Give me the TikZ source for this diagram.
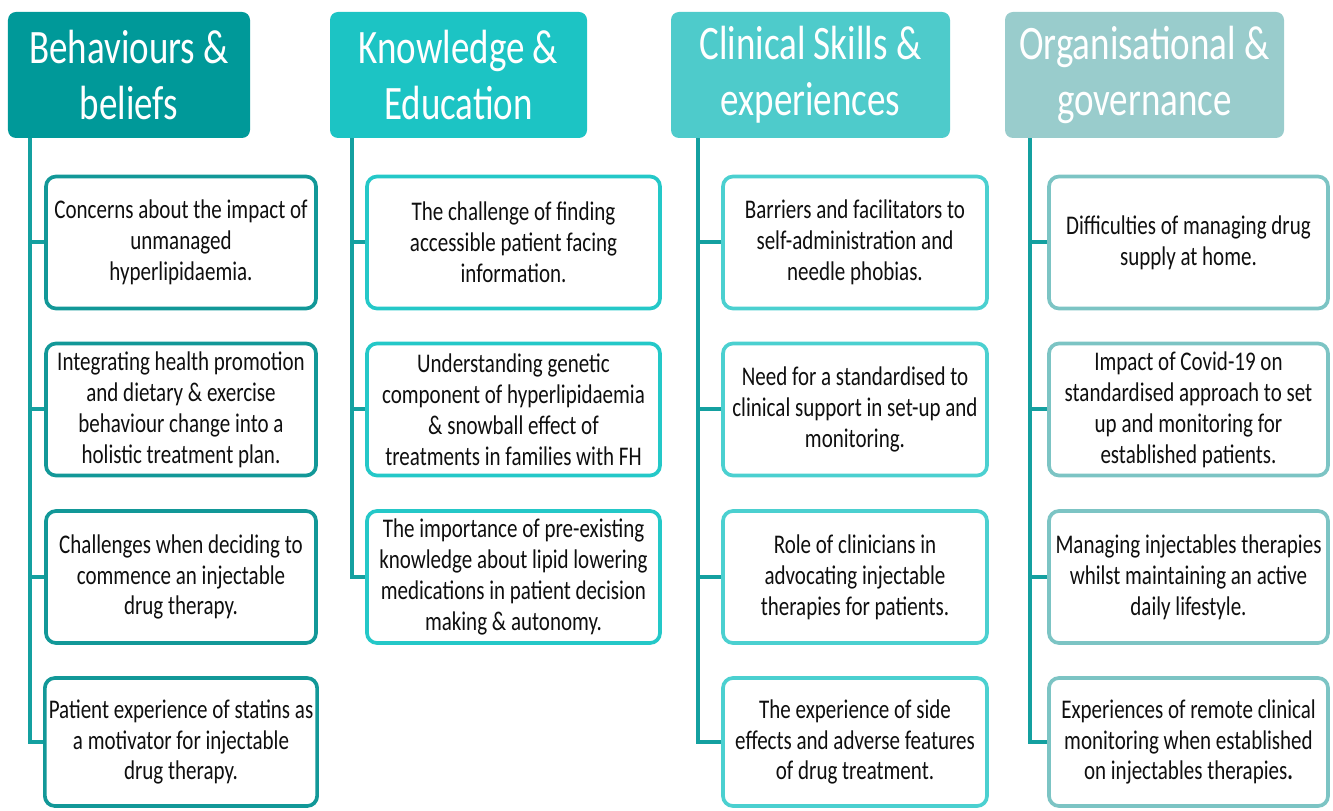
\documentclass[tikz,border=0pt]{standalone}
\usepackage{fontspec}
\setmainfont{Carlito}[FakeStretch=0.78]
\newfontfamily\headfont{Carlito}[FakeStretch=0.77]
\usepackage{tikz}

\definecolor{headA}{RGB}{0,153,153}
\definecolor{headB}{RGB}{28,196,196}
\definecolor{headC}{RGB}{78,203,203}
\definecolor{headD}{RGB}{153,204,204}
\definecolor{edgeA}{RGB}{18,152,152}
\definecolor{edgeB}{RGB}{36,200,200}
\definecolor{edgeC}{RGB}{75,208,208}
\definecolor{edgeD}{RGB}{124,196,196}
\definecolor{stemcol}{RGB}{20,160,160}
\definecolor{ink}{RGB}{15,15,15}

\tikzset{
  head/.style={rounded corners=2.4mm, minimum height=37.8mm, text=white, align=center,
    font=\headfont\fontsize{41}{47.6}\selectfont},
  card/.style={draw, line width=1.1mm, rounded corners=3mm, fill=white, text=ink,
    minimum height=39.6mm, align=center, font=\fontsize{23}{26.4}\selectfont},
  stem/.style={line width=1.2mm, stemcol}
}

\begin{document}
\begin{tikzpicture}[x=0.3mm,y=-0.3mm]
        \useasboundingbox (0,0) rectangle (1333,811);

        % Draw the four headers
        \node[head, fill=headA, minimum width=72.6mm] (h1) at (129,75) {Behaviours \&\\beliefs};
        \node[head, fill=headB, minimum width=77.1mm] (h2) at (458.5,75) {Knowledge \&\\Education};
        \node[head, fill=headC, minimum width=83.7mm] (h3) at (810.5,75) {Clinical Skills \&\\experiences};
        \node[head, fill=headD, minimum width=83.7mm] (h4) at (1144.5,75) {Organisational \&\\governance};

        % Draw the boxes of the first column
        \node[card, draw=edgeA, minimum width=81mm] (b11) at (181,242.5) {Concerns about the impact of\\unmanaged\\hyperlipidaemia.};
        \node[card, draw=edgeA, minimum width=81mm] (b12) at (181,409.5) {Integrating health promotion\\and dietary \& exercise\\behaviour change into a\\holistic treatment plan.};
        \node[card, draw=edgeA, minimum width=81mm] (b13) at (181,577) {Challenges when deciding to\\commence an injectable\\drug therapy.};
        \node[card, draw=edgeA, minimum width=81mm, minimum height=38.4mm] (b14) at (181,742) {Patient experience of statins as\\a motivator for injectable\\drug therapy.};

        % Draw the boxes of the second column
        \node[card, draw=edgeB, minimum width=87.9mm] (b21) at (513.5,242.5) {The challenge of finding\\accessible patient facing\\information.};
        \node[card, draw=edgeB, minimum width=87.9mm] (b22) at (513.5,409.5) {Understanding genetic\\component of hyperlipidaemia\\\& snowball effect of\\treatments in families with FH};
        \node[card, draw=edgeB, minimum width=87.9mm] (b23) at (513.5,577) {The importance of pre-existing\\knowledge about lipid lowering\\medications in patient decision\\making \& autonomy.};

        % Draw the boxes of the third column
        \node[card, draw=edgeC, minimum width=79.2mm] (b31) at (855,242.5) {Barriers and facilitators to\\self-administration and\\needle phobias.};
        \node[card, draw=edgeC, minimum width=79.2mm] (b32) at (855,409.5) {Need for a standardised to\\clinical support in set-up and\\monitoring.};
        \node[card, draw=edgeC, minimum width=79.2mm] (b33) at (855,577) {Role of clinicians in\\advocating injectable\\therapies for patients.};
        \node[card, draw=edgeC, minimum width=79.2mm, minimum height=38.4mm] (b34) at (855,742) {The experience of side\\effects and adverse features\\of drug treatment.};

        % Draw the boxes of the fourth column
        \node[card, draw=edgeD, minimum width=83.7mm] (b41) at (1188.5,242.5) {Difficulties of managing drug\\supply at home.};
        \node[card, draw=edgeD, minimum width=83.7mm] (b42) at (1188.5,409.5) {Impact of Covid-19 on\\standardised approach to set\\up and monitoring for\\established patients.};
        \node[card, draw=edgeD, minimum width=83.7mm] (b43) at (1188.5,577) {Managing injectables therapies\\whilst maintaining an active\\daily lifestyle.};
        \node[card, draw=edgeD, minimum width=83.7mm, minimum height=38.4mm] (b44) at (1188.5,742) {Experiences of remote clinical\\monitoring when established\\on injectables therapies\textbf{.}};

        % Draw the stems from each header to its boxes
        \draw[stem] ([xshift=6.6mm]h1.south west) |- (b11.west);
        \draw[stem] ([xshift=6.6mm]h1.south west) |- (b12.west);
        \draw[stem] ([xshift=6.6mm]h1.south west) |- (b13.west);
        \draw[stem] ([xshift=6.6mm]h1.south west) |- (b14.west);

        \draw[stem] ([xshift=6.6mm]h2.south west) |- (b21.west);
        \draw[stem] ([xshift=6.6mm]h2.south west) |- (b22.west);
        \draw[stem] ([xshift=6.6mm]h2.south west) |- (b23.west);

        \draw[stem] ([xshift=8.1mm]h3.south west) |- (b31.west);
        \draw[stem] ([xshift=8.1mm]h3.south west) |- (b32.west);
        \draw[stem] ([xshift=8.1mm]h3.south west) |- (b33.west);
        \draw[stem] ([xshift=8.1mm]h3.south west) |- (b34.west);

        \draw[stem] ([xshift=7.5mm]h4.south west) |- (b41.west);
        \draw[stem] ([xshift=7.5mm]h4.south west) |- (b42.west);
        \draw[stem] ([xshift=7.5mm]h4.south west) |- (b43.west);
        \draw[stem] ([xshift=7.5mm]h4.south west) |- (b44.west);
\end{tikzpicture}
\end{document}
